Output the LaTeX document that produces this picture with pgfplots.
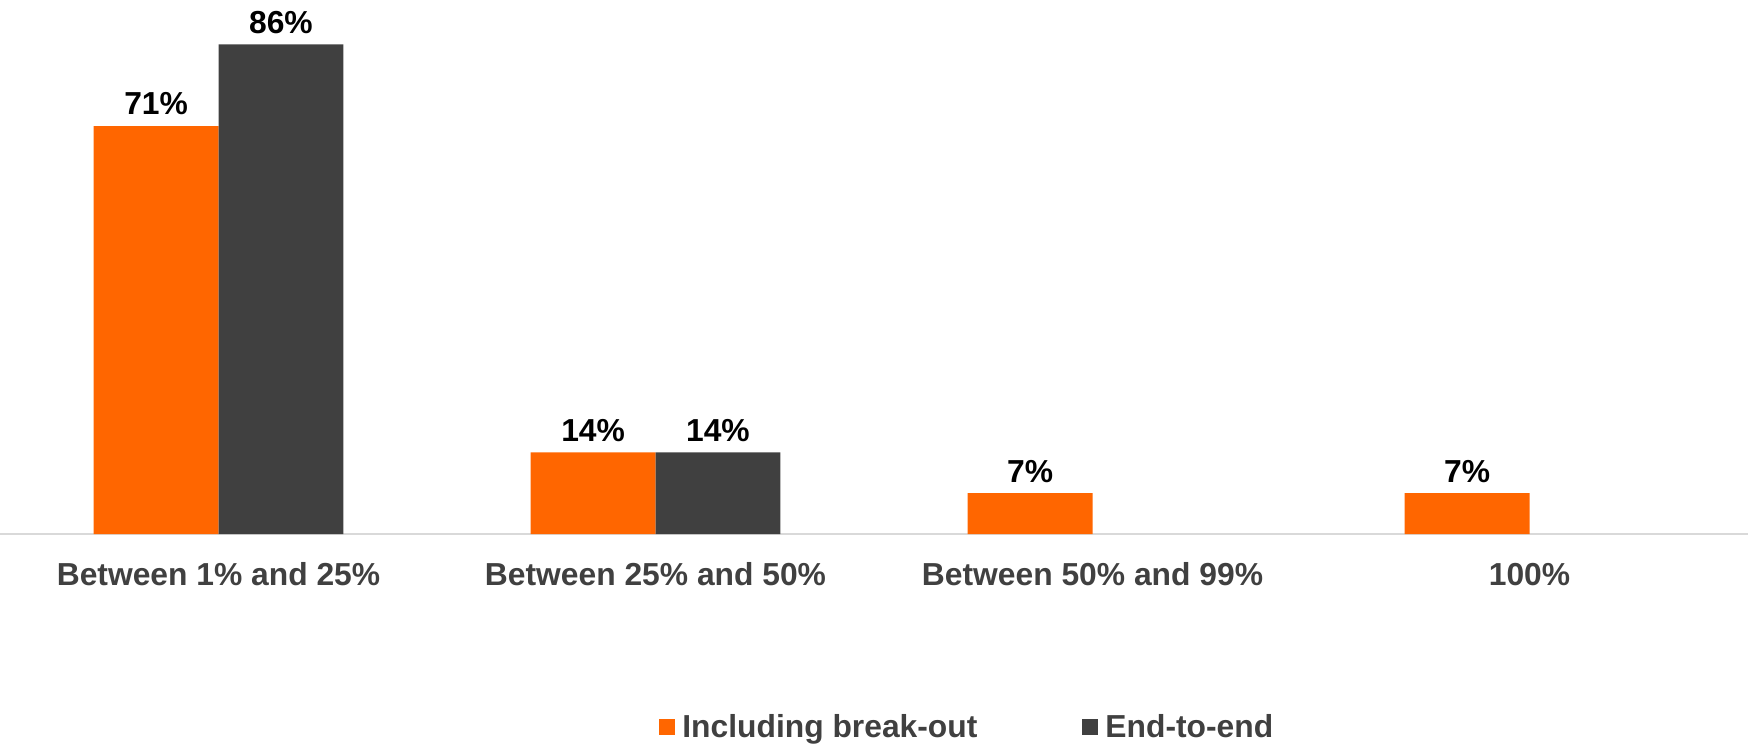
\documentclass[border=0pt]{standalone}
\usepackage{pgfplots}
\pgfplotsset{compat=1.18}
\usepackage{fontspec}
\setmainfont{Liberation Sans}

\definecolor{barorange}{RGB}{255,102,0}
\definecolor{bardark}{RGB}{64,64,64}
\definecolor{labelgray}{RGB}{64,64,64}
\definecolor{axisgray}{RGB}{217,217,217}
\newcommand\lblfont{\fontsize{15.9}{19}\selectfont\bfseries}

\begin{document}
\begin{tikzpicture}
\path[use as bounding box] (0,0) rectangle (874pt,372.5pt);
\begin{axis}[
at={(0pt,105.5pt)}, anchor=south west,
scale only axis, width=874pt, height=267pt,
xmin=-0.5, xmax=3.5, ymin=0, ymax=93.5,
axis y line=none,
axis x line*=bottom,
x axis line style={axisgray, line width=1pt, -},
xtick={0,1,2,3},
xticklabels={Between 1\% and 25\%, Between 25\% and 50\%, Between 50\% and 99\%, 100\%},
major tick length=0pt,
xticklabel style={font=\lblfont, text=labelgray, anchor=base, yshift=-25.7pt},
ybar=0pt, bar width=0.2857,
legend image code/.code={\fill[#1] (0pt,-4pt) rectangle (8pt,4pt);},
clip=false,
/pgf/number format/assume math mode=true,
nodes near coords={\pgfmathprintnumber[fixed,precision=0,assume math mode=true]{\pgfplotspointmeta}\%},
every node near coord/.append style={font=\lblfont, text=black, anchor=base, yshift=5.6pt},
legend columns=2,
legend cell align=left,
legend style={at={(0.377,-0.3614)}, anchor=west, draw=none, fill=none,
  inner sep=0pt, font=\lblfont, text=labelgray,
  nodes={inner sep=0pt},
  /tikz/column sep=3.5pt,
  /tikz/every even column/.append style={column sep=52.5pt}},
]
\addplot[fill=barorange, draw=none]
coordinates {(0,71.43) (1,14.29) (2,7.14) (3,7.14)};
\addlegendentry{Including break-out}
\addplot[fill=bardark, draw=none]
coordinates {(0,85.71) (1,14.29)};
\addlegendentry{End-to-end}
\end{axis}
\end{tikzpicture}
\end{document}
